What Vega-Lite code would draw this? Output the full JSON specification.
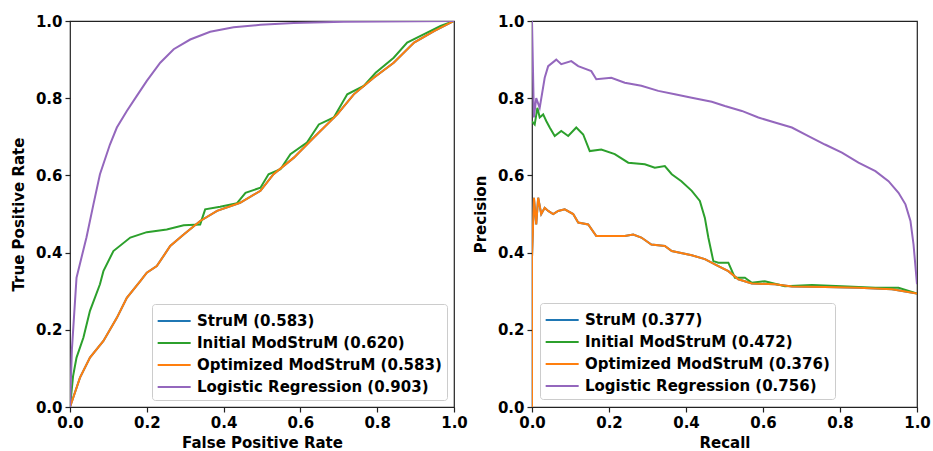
{
  "$schema": "https://vega.github.io/schema/vega-lite/v6.json",
  "background": "white",
  "padding": {"left": 10, "top": 13, "right": 5, "bottom": 0},
  "config": {
    "font": "DejaVu Sans",
    "view": {"stroke": "#222222", "strokeWidth": 1.2},
    "axis": {
      "labelFont": "DejaVu Sans", "labelFontWeight": "bold", "labelFontSize": 15, "labelColor": "black",
      "titleFont": "DejaVu Sans", "titleFontWeight": "bold", "titleFontSize": 15, "titleColor": "black",
      "grid": false, "domain": false, "tickColor": "#222222", "tickSize": 5, "tickWidth": 1.2,
      "labelPadding": 3, "titlePadding": 5, "labelFlush": false
    },
    "axisY": {"titlePadding": 9}
  },
  "datasets": {
    "roc": [
      {"s": "StruM (0.583)", "i": 0, "x": 0, "y": 0},
      {"s": "StruM (0.583)", "i": 1, "x": 0.026, "y": 0.076},
      {"s": "StruM (0.583)", "i": 2, "x": 0.052, "y": 0.128},
      {"s": "StruM (0.583)", "i": 3, "x": 0.087, "y": 0.171},
      {"s": "StruM (0.583)", "i": 4, "x": 0.122, "y": 0.231},
      {"s": "StruM (0.583)", "i": 5, "x": 0.148, "y": 0.283},
      {"s": "StruM (0.583)", "i": 6, "x": 0.183, "y": 0.326},
      {"s": "StruM (0.583)", "i": 7, "x": 0.2, "y": 0.348},
      {"s": "StruM (0.583)", "i": 8, "x": 0.226, "y": 0.365},
      {"s": "StruM (0.583)", "i": 9, "x": 0.261, "y": 0.417},
      {"s": "StruM (0.583)", "i": 10, "x": 0.296, "y": 0.447},
      {"s": "StruM (0.583)", "i": 11, "x": 0.339, "y": 0.482},
      {"s": "StruM (0.583)", "i": 12, "x": 0.383, "y": 0.508},
      {"s": "StruM (0.583)", "i": 13, "x": 0.443, "y": 0.529},
      {"s": "StruM (0.583)", "i": 14, "x": 0.496, "y": 0.56},
      {"s": "StruM (0.583)", "i": 15, "x": 0.53, "y": 0.603},
      {"s": "StruM (0.583)", "i": 16, "x": 0.583, "y": 0.646},
      {"s": "StruM (0.583)", "i": 17, "x": 0.635, "y": 0.698},
      {"s": "StruM (0.583)", "i": 18, "x": 0.696, "y": 0.758},
      {"s": "StruM (0.583)", "i": 19, "x": 0.739, "y": 0.81},
      {"s": "StruM (0.583)", "i": 20, "x": 0.791, "y": 0.853},
      {"s": "StruM (0.583)", "i": 21, "x": 0.843, "y": 0.892},
      {"s": "StruM (0.583)", "i": 22, "x": 0.896, "y": 0.944},
      {"s": "StruM (0.583)", "i": 23, "x": 0.948, "y": 0.974},
      {"s": "StruM (0.583)", "i": 24, "x": 1, "y": 1},

      {"s": "Initial ModStruM (0.620)", "i": 0, "x": 0, "y": 0},
      {"s": "Initial ModStruM (0.620)", "i": 1, "x": 0.008, "y": 0.08},
      {"s": "Initial ModStruM (0.620)", "i": 2, "x": 0.017, "y": 0.128},
      {"s": "Initial ModStruM (0.620)", "i": 3, "x": 0.035, "y": 0.18},
      {"s": "Initial ModStruM (0.620)", "i": 4, "x": 0.052, "y": 0.249},
      {"s": "Initial ModStruM (0.620)", "i": 5, "x": 0.078, "y": 0.318},
      {"s": "Initial ModStruM (0.620)", "i": 6, "x": 0.087, "y": 0.352},
      {"s": "Initial ModStruM (0.620)", "i": 7, "x": 0.113, "y": 0.404},
      {"s": "Initial ModStruM (0.620)", "i": 8, "x": 0.157, "y": 0.439},
      {"s": "Initial ModStruM (0.620)", "i": 9, "x": 0.2, "y": 0.453},
      {"s": "Initial ModStruM (0.620)", "i": 10, "x": 0.252, "y": 0.46},
      {"s": "Initial ModStruM (0.620)", "i": 11, "x": 0.296, "y": 0.471},
      {"s": "Initial ModStruM (0.620)", "i": 12, "x": 0.339, "y": 0.473},
      {"s": "Initial ModStruM (0.620)", "i": 13, "x": 0.352, "y": 0.512},
      {"s": "Initial ModStruM (0.620)", "i": 14, "x": 0.391, "y": 0.519},
      {"s": "Initial ModStruM (0.620)", "i": 15, "x": 0.435, "y": 0.528},
      {"s": "Initial ModStruM (0.620)", "i": 16, "x": 0.457, "y": 0.555},
      {"s": "Initial ModStruM (0.620)", "i": 17, "x": 0.496, "y": 0.568},
      {"s": "Initial ModStruM (0.620)", "i": 18, "x": 0.517, "y": 0.603},
      {"s": "Initial ModStruM (0.620)", "i": 19, "x": 0.548, "y": 0.616},
      {"s": "Initial ModStruM (0.620)", "i": 20, "x": 0.574, "y": 0.655},
      {"s": "Initial ModStruM (0.620)", "i": 21, "x": 0.617, "y": 0.685},
      {"s": "Initial ModStruM (0.620)", "i": 22, "x": 0.648, "y": 0.732},
      {"s": "Initial ModStruM (0.620)", "i": 23, "x": 0.687, "y": 0.75},
      {"s": "Initial ModStruM (0.620)", "i": 24, "x": 0.722, "y": 0.81},
      {"s": "Initial ModStruM (0.620)", "i": 25, "x": 0.765, "y": 0.832},
      {"s": "Initial ModStruM (0.620)", "i": 26, "x": 0.796, "y": 0.866},
      {"s": "Initial ModStruM (0.620)", "i": 27, "x": 0.843, "y": 0.905},
      {"s": "Initial ModStruM (0.620)", "i": 28, "x": 0.878, "y": 0.944},
      {"s": "Initial ModStruM (0.620)", "i": 29, "x": 0.93, "y": 0.97},
      {"s": "Initial ModStruM (0.620)", "i": 30, "x": 0.965, "y": 0.987},
      {"s": "Initial ModStruM (0.620)", "i": 31, "x": 1, "y": 1},

      {"s": "Optimized ModStruM (0.583)", "i": 0, "x": 0, "y": 0},
      {"s": "Optimized ModStruM (0.583)", "i": 1, "x": 0.026, "y": 0.076},
      {"s": "Optimized ModStruM (0.583)", "i": 2, "x": 0.052, "y": 0.128},
      {"s": "Optimized ModStruM (0.583)", "i": 3, "x": 0.087, "y": 0.171},
      {"s": "Optimized ModStruM (0.583)", "i": 4, "x": 0.122, "y": 0.231},
      {"s": "Optimized ModStruM (0.583)", "i": 5, "x": 0.148, "y": 0.283},
      {"s": "Optimized ModStruM (0.583)", "i": 6, "x": 0.183, "y": 0.326},
      {"s": "Optimized ModStruM (0.583)", "i": 7, "x": 0.2, "y": 0.348},
      {"s": "Optimized ModStruM (0.583)", "i": 8, "x": 0.226, "y": 0.365},
      {"s": "Optimized ModStruM (0.583)", "i": 9, "x": 0.261, "y": 0.417},
      {"s": "Optimized ModStruM (0.583)", "i": 10, "x": 0.296, "y": 0.447},
      {"s": "Optimized ModStruM (0.583)", "i": 11, "x": 0.339, "y": 0.482},
      {"s": "Optimized ModStruM (0.583)", "i": 12, "x": 0.383, "y": 0.508},
      {"s": "Optimized ModStruM (0.583)", "i": 13, "x": 0.443, "y": 0.529},
      {"s": "Optimized ModStruM (0.583)", "i": 14, "x": 0.496, "y": 0.56},
      {"s": "Optimized ModStruM (0.583)", "i": 15, "x": 0.53, "y": 0.603},
      {"s": "Optimized ModStruM (0.583)", "i": 16, "x": 0.583, "y": 0.646},
      {"s": "Optimized ModStruM (0.583)", "i": 17, "x": 0.635, "y": 0.698},
      {"s": "Optimized ModStruM (0.583)", "i": 18, "x": 0.696, "y": 0.758},
      {"s": "Optimized ModStruM (0.583)", "i": 19, "x": 0.739, "y": 0.81},
      {"s": "Optimized ModStruM (0.583)", "i": 20, "x": 0.791, "y": 0.853},
      {"s": "Optimized ModStruM (0.583)", "i": 21, "x": 0.843, "y": 0.892},
      {"s": "Optimized ModStruM (0.583)", "i": 22, "x": 0.896, "y": 0.944},
      {"s": "Optimized ModStruM (0.583)", "i": 23, "x": 0.948, "y": 0.974},
      {"s": "Optimized ModStruM (0.583)", "i": 24, "x": 1, "y": 1},

      {"s": "Logistic Regression (0.903)", "i": 0, "x": 0, "y": 0},
      {"s": "Logistic Regression (0.903)", "i": 1, "x": 0.005, "y": 0.15},
      {"s": "Logistic Regression (0.903)", "i": 2, "x": 0.017, "y": 0.335},
      {"s": "Logistic Regression (0.903)", "i": 3, "x": 0.043, "y": 0.44},
      {"s": "Logistic Regression (0.903)", "i": 4, "x": 0.061, "y": 0.525},
      {"s": "Logistic Regression (0.903)", "i": 5, "x": 0.078, "y": 0.603},
      {"s": "Logistic Regression (0.903)", "i": 6, "x": 0.104, "y": 0.68},
      {"s": "Logistic Regression (0.903)", "i": 7, "x": 0.122, "y": 0.724},
      {"s": "Logistic Regression (0.903)", "i": 8, "x": 0.148, "y": 0.767},
      {"s": "Logistic Regression (0.903)", "i": 9, "x": 0.174, "y": 0.806},
      {"s": "Logistic Regression (0.903)", "i": 10, "x": 0.2, "y": 0.845},
      {"s": "Logistic Regression (0.903)", "i": 11, "x": 0.235, "y": 0.892},
      {"s": "Logistic Regression (0.903)", "i": 12, "x": 0.27, "y": 0.927},
      {"s": "Logistic Regression (0.903)", "i": 13, "x": 0.313, "y": 0.952},
      {"s": "Logistic Regression (0.903)", "i": 14, "x": 0.365, "y": 0.972},
      {"s": "Logistic Regression (0.903)", "i": 15, "x": 0.426, "y": 0.984},
      {"s": "Logistic Regression (0.903)", "i": 16, "x": 0.496, "y": 0.99},
      {"s": "Logistic Regression (0.903)", "i": 17, "x": 0.583, "y": 0.995},
      {"s": "Logistic Regression (0.903)", "i": 18, "x": 0.713, "y": 0.998},
      {"s": "Logistic Regression (0.903)", "i": 19, "x": 1, "y": 1}
    ],
    "pr": [
      {"s": "StruM (0.377)", "i": 0, "x": 0, "y": 0},
      {"s": "StruM (0.377)", "i": 1, "x": 0, "y": 0.387},
      {"s": "StruM (0.377)", "i": 2, "x": 0.005, "y": 0.542},
      {"s": "StruM (0.377)", "i": 3, "x": 0.011, "y": 0.473},
      {"s": "StruM (0.377)", "i": 4, "x": 0.016, "y": 0.542},
      {"s": "StruM (0.377)", "i": 5, "x": 0.024, "y": 0.5},
      {"s": "StruM (0.377)", "i": 6, "x": 0.033, "y": 0.516},
      {"s": "StruM (0.377)", "i": 7, "x": 0.042, "y": 0.508},
      {"s": "StruM (0.377)", "i": 8, "x": 0.055, "y": 0.5},
      {"s": "StruM (0.377)", "i": 9, "x": 0.068, "y": 0.508},
      {"s": "StruM (0.377)", "i": 10, "x": 0.085, "y": 0.512},
      {"s": "StruM (0.377)", "i": 11, "x": 0.107, "y": 0.5},
      {"s": "StruM (0.377)", "i": 12, "x": 0.12, "y": 0.478},
      {"s": "StruM (0.377)", "i": 13, "x": 0.146, "y": 0.473},
      {"s": "StruM (0.377)", "i": 14, "x": 0.167, "y": 0.443},
      {"s": "StruM (0.377)", "i": 15, "x": 0.206, "y": 0.443},
      {"s": "StruM (0.377)", "i": 16, "x": 0.241, "y": 0.443},
      {"s": "StruM (0.377)", "i": 17, "x": 0.263, "y": 0.447},
      {"s": "StruM (0.377)", "i": 18, "x": 0.284, "y": 0.439},
      {"s": "StruM (0.377)", "i": 19, "x": 0.31, "y": 0.421},
      {"s": "StruM (0.377)", "i": 20, "x": 0.345, "y": 0.417},
      {"s": "StruM (0.377)", "i": 21, "x": 0.363, "y": 0.404},
      {"s": "StruM (0.377)", "i": 22, "x": 0.415, "y": 0.393},
      {"s": "StruM (0.377)", "i": 23, "x": 0.449, "y": 0.383},
      {"s": "StruM (0.377)", "i": 24, "x": 0.484, "y": 0.365},
      {"s": "StruM (0.377)", "i": 25, "x": 0.51, "y": 0.352},
      {"s": "StruM (0.377)", "i": 26, "x": 0.536, "y": 0.331},
      {"s": "StruM (0.377)", "i": 27, "x": 0.571, "y": 0.32},
      {"s": "StruM (0.377)", "i": 28, "x": 0.631, "y": 0.318},
      {"s": "StruM (0.377)", "i": 29, "x": 0.675, "y": 0.312},
      {"s": "StruM (0.377)", "i": 30, "x": 0.761, "y": 0.311},
      {"s": "StruM (0.377)", "i": 31, "x": 0.848, "y": 0.309},
      {"s": "StruM (0.377)", "i": 32, "x": 0.935, "y": 0.305},
      {"s": "StruM (0.377)", "i": 33, "x": 1, "y": 0.294},

      {"s": "Initial ModStruM (0.472)", "i": 0, "x": 0, "y": 0.74},
      {"s": "Initial ModStruM (0.472)", "i": 1, "x": 0.007, "y": 0.732},
      {"s": "Initial ModStruM (0.472)", "i": 2, "x": 0.014, "y": 0.775},
      {"s": "Initial ModStruM (0.472)", "i": 3, "x": 0.02, "y": 0.75},
      {"s": "Initial ModStruM (0.472)", "i": 4, "x": 0.029, "y": 0.758},
      {"s": "Initial ModStruM (0.472)", "i": 5, "x": 0.037, "y": 0.741},
      {"s": "Initial ModStruM (0.472)", "i": 6, "x": 0.046, "y": 0.724},
      {"s": "Initial ModStruM (0.472)", "i": 7, "x": 0.059, "y": 0.702},
      {"s": "Initial ModStruM (0.472)", "i": 8, "x": 0.076, "y": 0.715},
      {"s": "Initial ModStruM (0.472)", "i": 9, "x": 0.094, "y": 0.702},
      {"s": "Initial ModStruM (0.472)", "i": 10, "x": 0.115, "y": 0.724},
      {"s": "Initial ModStruM (0.472)", "i": 11, "x": 0.133, "y": 0.706},
      {"s": "Initial ModStruM (0.472)", "i": 12, "x": 0.15, "y": 0.663},
      {"s": "Initial ModStruM (0.472)", "i": 13, "x": 0.18, "y": 0.667},
      {"s": "Initial ModStruM (0.472)", "i": 14, "x": 0.215, "y": 0.655},
      {"s": "Initial ModStruM (0.472)", "i": 15, "x": 0.25, "y": 0.633},
      {"s": "Initial ModStruM (0.472)", "i": 16, "x": 0.293, "y": 0.629},
      {"s": "Initial ModStruM (0.472)", "i": 17, "x": 0.319, "y": 0.62},
      {"s": "Initial ModStruM (0.472)", "i": 18, "x": 0.345, "y": 0.624},
      {"s": "Initial ModStruM (0.472)", "i": 19, "x": 0.363, "y": 0.603},
      {"s": "Initial ModStruM (0.472)", "i": 20, "x": 0.388, "y": 0.585},
      {"s": "Initial ModStruM (0.472)", "i": 21, "x": 0.415, "y": 0.56},
      {"s": "Initial ModStruM (0.472)", "i": 22, "x": 0.436, "y": 0.534},
      {"s": "Initial ModStruM (0.472)", "i": 23, "x": 0.449, "y": 0.49},
      {"s": "Initial ModStruM (0.472)", "i": 24, "x": 0.458, "y": 0.439},
      {"s": "Initial ModStruM (0.472)", "i": 25, "x": 0.471, "y": 0.378},
      {"s": "Initial ModStruM (0.472)", "i": 26, "x": 0.484, "y": 0.374},
      {"s": "Initial ModStruM (0.472)", "i": 27, "x": 0.51, "y": 0.374},
      {"s": "Initial ModStruM (0.472)", "i": 28, "x": 0.527, "y": 0.335},
      {"s": "Initial ModStruM (0.472)", "i": 29, "x": 0.553, "y": 0.335},
      {"s": "Initial ModStruM (0.472)", "i": 30, "x": 0.571, "y": 0.322},
      {"s": "Initial ModStruM (0.472)", "i": 31, "x": 0.605, "y": 0.326},
      {"s": "Initial ModStruM (0.472)", "i": 32, "x": 0.657, "y": 0.313},
      {"s": "Initial ModStruM (0.472)", "i": 33, "x": 0.727, "y": 0.316},
      {"s": "Initial ModStruM (0.472)", "i": 34, "x": 0.805, "y": 0.313},
      {"s": "Initial ModStruM (0.472)", "i": 35, "x": 0.892, "y": 0.309},
      {"s": "Initial ModStruM (0.472)", "i": 36, "x": 0.952, "y": 0.309},
      {"s": "Initial ModStruM (0.472)", "i": 37, "x": 1, "y": 0.294},

      {"s": "Optimized ModStruM (0.376)", "i": 0, "x": 0, "y": 0},
      {"s": "Optimized ModStruM (0.376)", "i": 1, "x": 0, "y": 0.387},
      {"s": "Optimized ModStruM (0.376)", "i": 2, "x": 0.005, "y": 0.542},
      {"s": "Optimized ModStruM (0.376)", "i": 3, "x": 0.011, "y": 0.473},
      {"s": "Optimized ModStruM (0.376)", "i": 4, "x": 0.016, "y": 0.542},
      {"s": "Optimized ModStruM (0.376)", "i": 5, "x": 0.024, "y": 0.5},
      {"s": "Optimized ModStruM (0.376)", "i": 6, "x": 0.033, "y": 0.516},
      {"s": "Optimized ModStruM (0.376)", "i": 7, "x": 0.042, "y": 0.508},
      {"s": "Optimized ModStruM (0.376)", "i": 8, "x": 0.055, "y": 0.5},
      {"s": "Optimized ModStruM (0.376)", "i": 9, "x": 0.068, "y": 0.508},
      {"s": "Optimized ModStruM (0.376)", "i": 10, "x": 0.085, "y": 0.512},
      {"s": "Optimized ModStruM (0.376)", "i": 11, "x": 0.107, "y": 0.5},
      {"s": "Optimized ModStruM (0.376)", "i": 12, "x": 0.12, "y": 0.478},
      {"s": "Optimized ModStruM (0.376)", "i": 13, "x": 0.146, "y": 0.473},
      {"s": "Optimized ModStruM (0.376)", "i": 14, "x": 0.167, "y": 0.443},
      {"s": "Optimized ModStruM (0.376)", "i": 15, "x": 0.206, "y": 0.443},
      {"s": "Optimized ModStruM (0.376)", "i": 16, "x": 0.241, "y": 0.443},
      {"s": "Optimized ModStruM (0.376)", "i": 17, "x": 0.263, "y": 0.447},
      {"s": "Optimized ModStruM (0.376)", "i": 18, "x": 0.284, "y": 0.439},
      {"s": "Optimized ModStruM (0.376)", "i": 19, "x": 0.31, "y": 0.421},
      {"s": "Optimized ModStruM (0.376)", "i": 20, "x": 0.345, "y": 0.417},
      {"s": "Optimized ModStruM (0.376)", "i": 21, "x": 0.363, "y": 0.404},
      {"s": "Optimized ModStruM (0.376)", "i": 22, "x": 0.415, "y": 0.393},
      {"s": "Optimized ModStruM (0.376)", "i": 23, "x": 0.449, "y": 0.383},
      {"s": "Optimized ModStruM (0.376)", "i": 24, "x": 0.484, "y": 0.365},
      {"s": "Optimized ModStruM (0.376)", "i": 25, "x": 0.51, "y": 0.352},
      {"s": "Optimized ModStruM (0.376)", "i": 26, "x": 0.536, "y": 0.331},
      {"s": "Optimized ModStruM (0.376)", "i": 27, "x": 0.571, "y": 0.32},
      {"s": "Optimized ModStruM (0.376)", "i": 28, "x": 0.631, "y": 0.318},
      {"s": "Optimized ModStruM (0.376)", "i": 29, "x": 0.675, "y": 0.312},
      {"s": "Optimized ModStruM (0.376)", "i": 30, "x": 0.761, "y": 0.311},
      {"s": "Optimized ModStruM (0.376)", "i": 31, "x": 0.848, "y": 0.309},
      {"s": "Optimized ModStruM (0.376)", "i": 32, "x": 0.935, "y": 0.305},
      {"s": "Optimized ModStruM (0.376)", "i": 33, "x": 1, "y": 0.294},

      {"s": "Logistic Regression (0.756)", "i": 0, "x": 0, "y": 1.0},
      {"s": "Logistic Regression (0.756)", "i": 1, "x": 0.005, "y": 0.75},
      {"s": "Logistic Regression (0.756)", "i": 2, "x": 0.011, "y": 0.8},
      {"s": "Logistic Regression (0.756)", "i": 3, "x": 0.02, "y": 0.775},
      {"s": "Logistic Regression (0.756)", "i": 4, "x": 0.033, "y": 0.853},
      {"s": "Logistic Regression (0.756)", "i": 5, "x": 0.042, "y": 0.883},
      {"s": "Logistic Regression (0.756)", "i": 6, "x": 0.063, "y": 0.9},
      {"s": "Logistic Regression (0.756)", "i": 7, "x": 0.076, "y": 0.888},
      {"s": "Logistic Regression (0.756)", "i": 8, "x": 0.102, "y": 0.896},
      {"s": "Logistic Regression (0.756)", "i": 9, "x": 0.12, "y": 0.883},
      {"s": "Logistic Regression (0.756)", "i": 10, "x": 0.154, "y": 0.87},
      {"s": "Logistic Regression (0.756)", "i": 11, "x": 0.167, "y": 0.849},
      {"s": "Logistic Regression (0.756)", "i": 12, "x": 0.206, "y": 0.853},
      {"s": "Logistic Regression (0.756)", "i": 13, "x": 0.241, "y": 0.84},
      {"s": "Logistic Regression (0.756)", "i": 14, "x": 0.284, "y": 0.832},
      {"s": "Logistic Regression (0.756)", "i": 15, "x": 0.328, "y": 0.819},
      {"s": "Logistic Regression (0.756)", "i": 16, "x": 0.371, "y": 0.81},
      {"s": "Logistic Regression (0.756)", "i": 17, "x": 0.415, "y": 0.801},
      {"s": "Logistic Regression (0.756)", "i": 18, "x": 0.467, "y": 0.791},
      {"s": "Logistic Regression (0.756)", "i": 19, "x": 0.501, "y": 0.78},
      {"s": "Logistic Regression (0.756)", "i": 20, "x": 0.545, "y": 0.767},
      {"s": "Logistic Regression (0.756)", "i": 21, "x": 0.588, "y": 0.75},
      {"s": "Logistic Regression (0.756)", "i": 22, "x": 0.631, "y": 0.737},
      {"s": "Logistic Regression (0.756)", "i": 23, "x": 0.675, "y": 0.724},
      {"s": "Logistic Regression (0.756)", "i": 24, "x": 0.718, "y": 0.702},
      {"s": "Logistic Regression (0.756)", "i": 25, "x": 0.761, "y": 0.68},
      {"s": "Logistic Regression (0.756)", "i": 26, "x": 0.805, "y": 0.659},
      {"s": "Logistic Regression (0.756)", "i": 27, "x": 0.848, "y": 0.633},
      {"s": "Logistic Regression (0.756)", "i": 28, "x": 0.892, "y": 0.611},
      {"s": "Logistic Regression (0.756)", "i": 29, "x": 0.926, "y": 0.585},
      {"s": "Logistic Regression (0.756)", "i": 30, "x": 0.952, "y": 0.555},
      {"s": "Logistic Regression (0.756)", "i": 31, "x": 0.97, "y": 0.525},
      {"s": "Logistic Regression (0.756)", "i": 32, "x": 0.983, "y": 0.482},
      {"s": "Logistic Regression (0.756)", "i": 33, "x": 0.991, "y": 0.421},
      {"s": "Logistic Regression (0.756)", "i": 34, "x": 1.0, "y": 0.318}
    ]
  },
  "hconcat": [
    {
      "width": 384, "height": 386,
      "data": {"name": "roc"},
      "mark": {"type": "line", "strokeWidth": 2, "clip": true},
      "encoding": {
        "x": {"field": "x", "type": "quantitative", "scale": {"domain": [0, 1], "nice": false},
              "axis": {"title": "False Positive Rate", "values": [0, 0.2, 0.4, 0.6, 0.8, 1], "format": ".1f", "labelFlush": false}},
        "y": {"field": "y", "type": "quantitative", "scale": {"domain": [0, 1], "nice": false},
              "axis": {"title": "True Positive Rate", "values": [0, 0.2, 0.4, 0.6, 0.8, 1], "format": ".1f", "labelFlush": false}},
        "color": {"field": "s", "type": "nominal",
          "scale": {"domain": ["StruM (0.583)", "Initial ModStruM (0.620)", "Optimized ModStruM (0.583)", "Logistic Regression (0.903)"],
                    "range": ["#1f77b4", "#2ca02c", "#ff7f0e", "#9467bd"]},
          "sort": null,
          "legend": {"orient": "bottom-right", "title": null, "offset": 7,
            "strokeColor": "#cccccc", "fillColor": "rgba(255,255,255,0.85)", "cornerRadius": 3, "padding": 5,
            "symbolType": "M-1.03,0H1.97", "symbolSize": 484, "symbolStrokeWidth": 2,
            "labelFont": "DejaVu Sans", "labelFontWeight": "bold", "labelFontSize": 15, "labelColor": "black",
            "rowPadding": 2, "labelOffset": 16, "labelLimit": 400}},
        "order": {"field": "i", "type": "quantitative"}
      }
    },
    {
      "width": 385, "height": 386,
      "data": {"name": "pr"},
      "mark": {"type": "line", "strokeWidth": 2, "clip": true},
      "encoding": {
        "x": {"field": "x", "type": "quantitative", "scale": {"domain": [0, 1], "nice": false},
              "axis": {"title": "Recall", "values": [0, 0.2, 0.4, 0.6, 0.8, 1], "format": ".1f", "labelFlush": false}},
        "y": {"field": "y", "type": "quantitative", "scale": {"domain": [0, 1], "nice": false},
              "axis": {"title": "Precision", "values": [0, 0.2, 0.4, 0.6, 0.8, 1], "format": ".1f", "labelFlush": false}},
        "color": {"field": "s", "type": "nominal",
          "scale": {"domain": ["StruM (0.377)", "Initial ModStruM (0.472)", "Optimized ModStruM (0.376)", "Logistic Regression (0.756)"],
                    "range": ["#1f77b4", "#2ca02c", "#ff7f0e", "#9467bd"]},
          "sort": null,
          "legend": {"orient": "bottom-left", "title": null, "offset": 8,
            "strokeColor": "#cccccc", "fillColor": "rgba(255,255,255,0.85)", "cornerRadius": 3, "padding": 5,
            "symbolType": "M-1.03,0H1.97", "symbolSize": 484, "symbolStrokeWidth": 2,
            "labelFont": "DejaVu Sans", "labelFontWeight": "bold", "labelFontSize": 15, "labelColor": "black",
            "rowPadding": 2, "labelOffset": 16, "labelLimit": 400}},
        "order": {"field": "i", "type": "quantitative"}
      }
    }
  ],
  "spacing": 4,
  "resolve": {"scale": {"color": "independent"}, "legend": {"color": "independent"}}
}
